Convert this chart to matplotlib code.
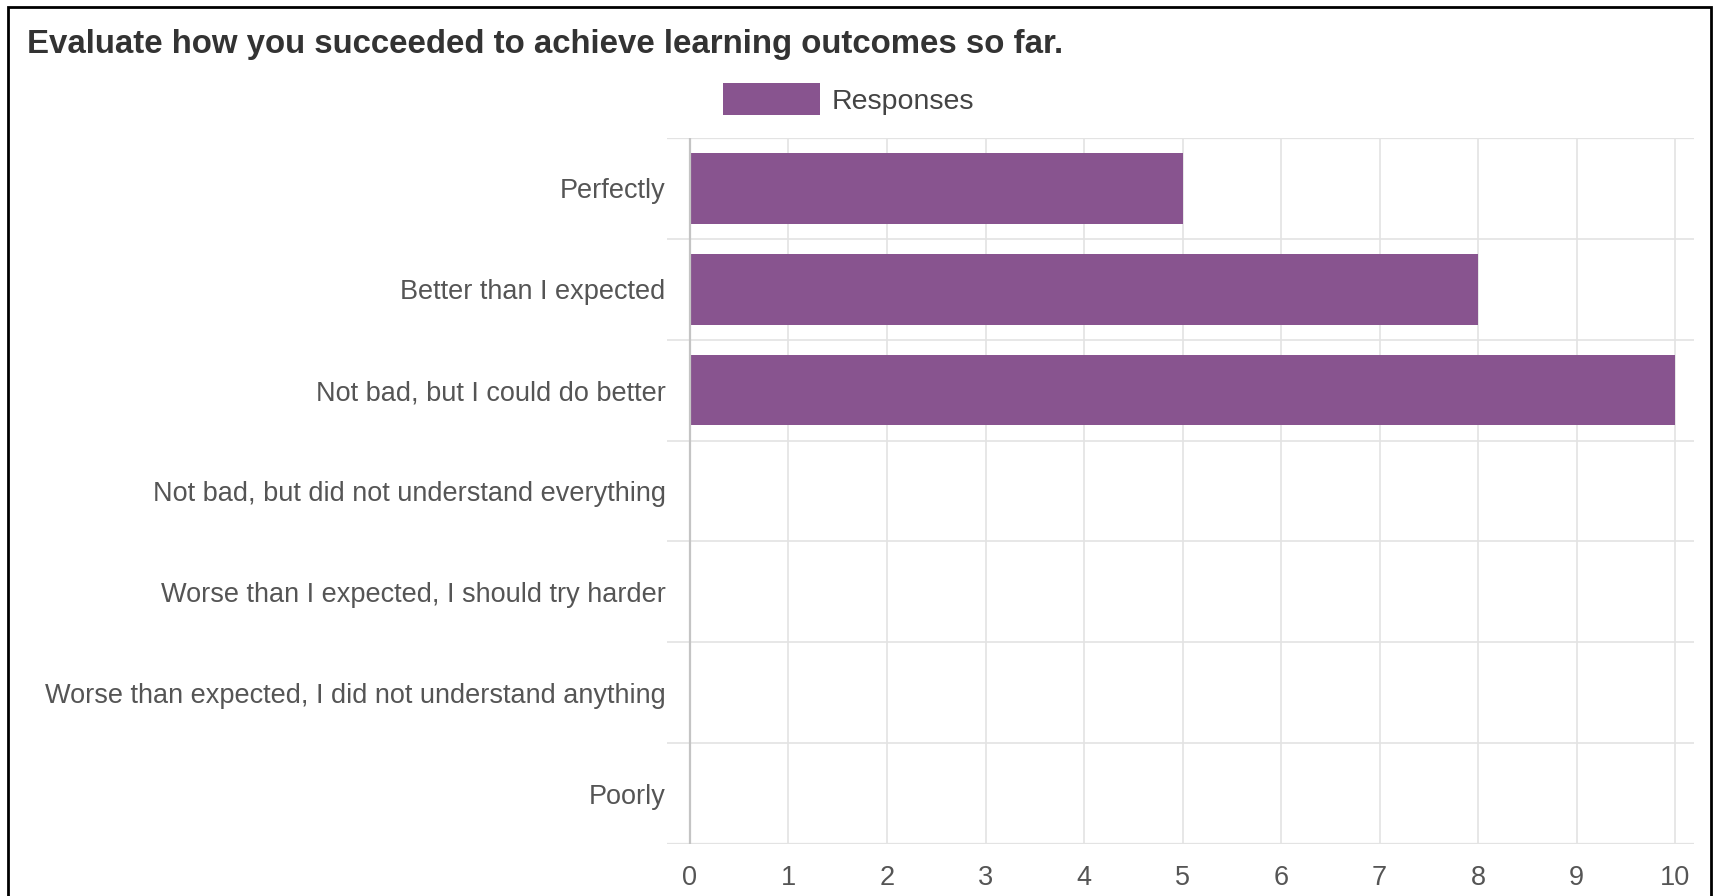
import matplotlib
matplotlib.use("Agg")
import matplotlib.pyplot as plt
from matplotlib.patches import Rectangle
import numpy as np

# survey answers (top to bottom) and counts
categories = [
    "Perfectly",
    "Better than I expected",
    "Not bad, but I could do better",
    "Not bad, but did not understand everything",
    "Worse than I expected, I should try harder",
    "Worse than expected, I did not understand anything",
    "Poorly",
]
responses = [5, 8, 10, 0, 0, 0, 0]
xticks = list(range(0, 11))

title = "Evaluate how you succeeded to achieve learning outcomes so far."
bar_color = "#88548f"

plt.rcParams['font.family'] = ['Liberation Sans', 'DejaVu Sans']

fig = plt.figure(figsize=(17.14, 8.96), dpi=100)
ax = fig.add_axes([0.3891, 0.0580, 0.5992, 0.7880])

ypos = np.arange(len(categories))
ax.barh(ypos, responses, height=0.7, color=bar_color, label="Responses", zorder=3)

ax.set_xlim(-0.234, 10.19)
ax.set_ylim(len(categories) - 0.5, -0.5)

# grid lines like google charts
for v in xticks:
    if v == 0:
        ax.axvline(v, color="#c4c4c4", lw=1.6, zorder=4)
    else:
        ax.axvline(v, color="#e3e3e3", lw=1.2, zorder=1)
for b in np.arange(-0.5, len(categories), 1.0):
    ax.axhline(b, color="#e3e3e3", lw=1.6 if b in (-0.5, len(categories) - 0.5) else 1.2, zorder=1)

ax.set_yticks(ypos)
ax.set_yticklabels(categories, fontsize=19.5, color="#555555")
ax.set_xticks(xticks)
ax.set_xticklabels([str(v) for v in xticks], fontsize=19.5, color="#555555")
ax.tick_params(axis="y", length=0, pad=1)
ax.tick_params(axis="x", length=0, pad=15)
for t in ax.get_yticklabels():
    t.set_va("center_baseline")
for s in ax.spines.values():
    s.set_visible(False)

fig.text(27 / 1714, 1 - 44 / 896, title, fontsize=23.8, fontweight="bold",
         color="#333333", va="center", ha="left")

fig.legend(loc="center left", bbox_to_anchor=(723 / 1714, 1 - 99 / 896),
           frameon=False, borderaxespad=0, borderpad=0, fontsize=20.5,
           handlelength=3.4, handleheight=1.3, handletextpad=0.4,
           labelcolor="#444444")

# outer frame of the screenshot
fig.patches.append(Rectangle((8 / 1714, -0.1), 1703 / 1714, 1.1 - 7 / 896,
                             transform=fig.transFigure, fill=False,
                             edgecolor="black", lw=2))

fig.savefig("out.png", dpi=100)
